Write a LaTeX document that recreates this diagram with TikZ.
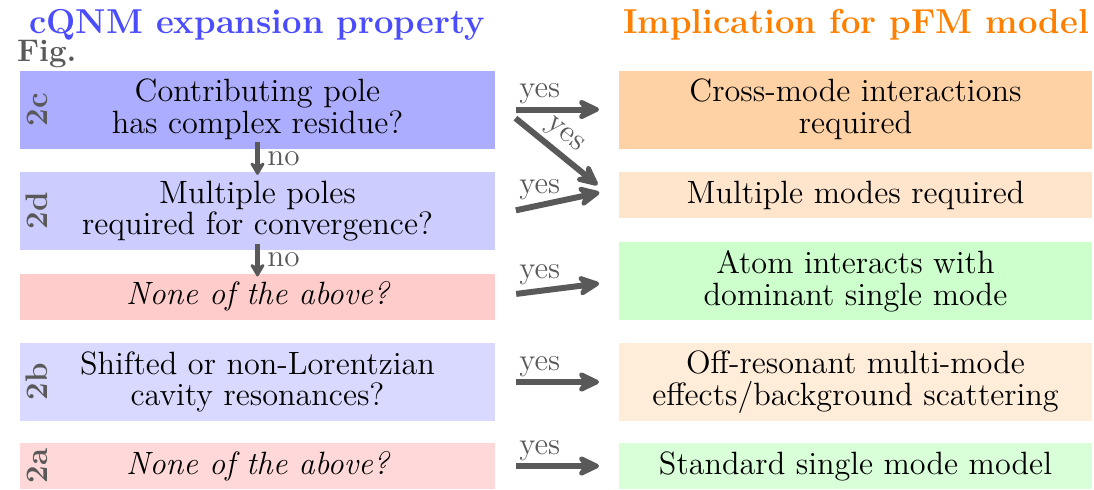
\documentclass[tikz,border=0pt]{standalone}
\usepackage{tikz}
\usetikzlibrary{arrows.meta}
\definecolor{markgray}{gray}{0.35}
\newcommand{\pxu}{0.3846pt}
\tikzset{
  lbox/.style={inner sep=0pt, align=center, font=\fontsize{12.4}{12.2}\selectfont, minimum width=475*\pxu},
  rbox/.style={inner sep=0pt, align=center, font=\fontsize{12.4}{12.2}\selectfont, minimum width=473*\pxu},
  tall/.style={minimum height=78*\pxu},
  short/.style={minimum height=46*\pxu},
  figlbl/.style={rotate=90, font=\large\bfseries, text=markgray},
  titlefont/.style={font=\fontsize{13.3}{16}\selectfont\bfseries, anchor=base},
  yesarrow/.style={line width=2.3pt, draw=markgray, -{Stealth[round, length=10.5pt, width=10pt, inset=3.5pt]}, shorten <=8pt, shorten >=7.5pt},
  noarrow/.style={line width=1.6pt, draw=markgray, -{Stealth[round, length=6pt, width=7pt, inset=2pt]}},
  yeslbl/.style={font=\large, text=markgray, above=0pt, inner sep=1pt, pos=0.36},
  nolbl/.style={font=\large, text=markgray, right=2pt, inner sep=1pt, midway}
}

\begin{document}
\begin{tikzpicture}[x=\pxu, y=-\pxu]
\useasboundingbox (0,0) rectangle (1094,489);

% titles
\node[titlefont, text=blue!70] (ltitle) at (257,33) {cQNM expansion property};
\node[titlefont, text=orange] (rtitle) at (856,33) {Implication for pFM model};
\node[font=\large\bfseries, text=markgray, anchor=base west] (fig) at (8,61) {Fig.};

% left column
\node[lbox, tall, fill=blue!32] (q2c) at (257.5,109.5) {Contributing pole\\has complex residue?};
\node[lbox, tall, fill=blue!20] (q2d) at (257.5,211) {Multiple poles\\required for convergence?};
\node[lbox, short, fill=red!20] (qnone) at (257.5,296.5) {\itshape None of the above?};
\node[lbox, tall, fill=blue!15] (q2b) at (257.5,382) {Shifted or non-Lorentzian\\cavity resonances?};
\node[lbox, short, fill=red!15] (q2a) at (257.5,466) {\itshape None of the above?};

\node[figlbl] (l2c) at (37,109.5) {2c};
\node[figlbl] (l2d) at (37,211) {2d};
\node[figlbl] (l2b) at (37,382) {2b};
\node[figlbl] (l2a) at (37,466) {2a};

% right column
\node[rbox, tall, fill=orange!35] (cross) at (855.5,109.5) {Cross-mode interactions\\required};
\node[rbox, short, fill=orange!20] (multi) at (855.5,195) {Multiple modes required};
\node[rbox, tall, fill=green!20] (atom) at (855.5,281) {Atom interacts with\\dominant single mode};
\node[rbox, tall, fill=orange!15] (offres) at (855.5,382) {Off-resonant multi-mode\\effects/background scattering};
\node[rbox, short, fill=green!15] (std) at (855.5,466) {Standard single mode model};

% no
\draw[noarrow] ([yshift=2.7pt]q2c.south) -- node[nolbl]{no} ([yshift=-1.3pt]q2d.north);
\draw[noarrow] ([yshift=2.7pt]q2d.south) -- node[nolbl]{no} ([yshift=-1.3pt]qnone.north);

% yes
\draw[yesarrow] (q2c.east) -- node[yeslbl]{yes} (cross.west);
\draw[yesarrow, shorten <=9.9pt, shorten >=10.4pt] ([yshift=2.9pt]q2c.east) -- node[font=\large, text=markgray, sloped, pos=0.47, anchor=south, inner sep=1.5pt]{yes} ([yshift=-2.7pt]multi.west);
\draw[yesarrow] ([yshift=-1.4pt]q2d.east) -- node[yeslbl]{yes} ([yshift=2.5pt]multi.west);
\draw[yesarrow] (qnone.east) -- node[yeslbl]{yes} (atom.west);
\draw[yesarrow] (q2b.east) -- node[yeslbl]{yes} (offres.west);
\draw[yesarrow] (q2a.east) -- node[yeslbl]{yes} (std.west);

\end{tikzpicture}
\end{document}
